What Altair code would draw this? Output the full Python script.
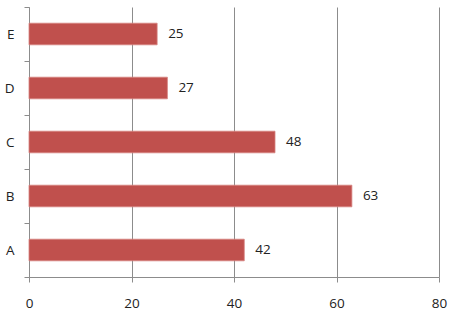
import altair as alt
import pandas as pd

categories = ["A", "B", "C", "D", "E"]
values = [42, 63, 48, 27, 25]
x_ticks = [0, 20, 40, 60, 80]

df = pd.DataFrame({"cat": categories, "val": values})
order = list(reversed(categories))

FONT = "Open Sans"
base = alt.Chart(df).encode(
    y=alt.Y("cat:N", sort=order, title=None,
            scale=alt.Scale(paddingInner=0, paddingOuter=0),
            axis=alt.Axis(tickBand="extent", labelFont=FONT, labelFontSize=13.5,
                          labelColor="#222222", labelPadding=10, tickSize=5,
                          domainColor="#8c8c8c", tickColor="#8c8c8c", labelAngle=0,
                          grid=False)),
)

bars = base.mark_bar(color="#C0504D", stroke="#D6827F", strokeWidth=0.8,
                     height={"band": 0.4}).encode(
    x=alt.X("val:Q", title=None,
            scale=alt.Scale(domain=[0, 80], nice=False),
            axis=alt.Axis(values=x_ticks, labelFont=FONT, labelFontSize=13.5,
                          labelColor="#222222", labelPadding=14, tickSize=5,
                          labelFlush=False,
                          domainColor="#8c8c8c", tickColor="#8c8c8c",
                          gridColor="#8c8c8c", gridWidth=1, grid=True)),
)

labels = base.mark_text(align="left", baseline="middle", dx=11, font=FONT,
                        fontSize=13.5, color="#222222").encode(
    x=alt.X("val:Q"),
    text=alt.Text("val:Q"),
)

chart = alt.layer(bars, labels).properties(
    width=410, height=270,
    autosize=alt.AutoSizeParams(type="none"),
    padding={"left": 29, "top": 7, "right": 15, "bottom": 38},
).configure_view(stroke=None)

chart.save("out.html", embed_options={"renderer": "svg", "actions": False})
